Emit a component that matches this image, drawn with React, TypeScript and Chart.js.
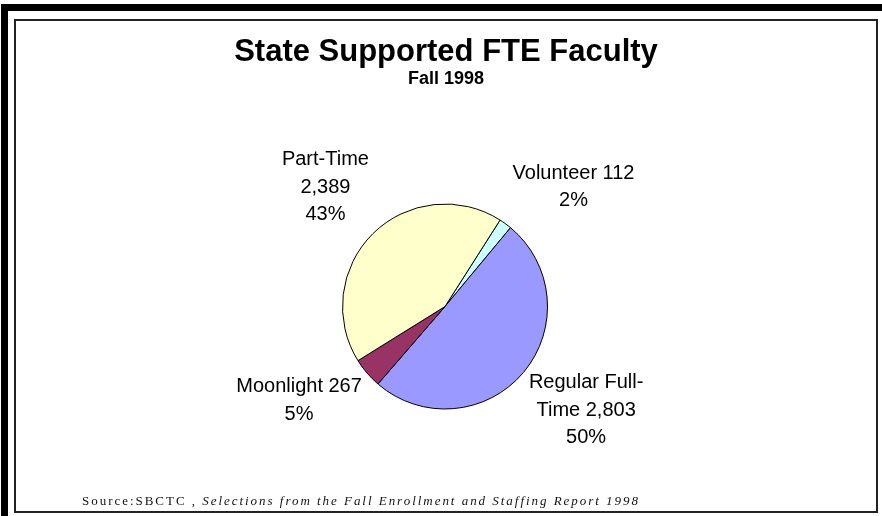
import React, { useEffect, useRef } from "react";
import { Chart, registerables } from "chart.js";

Chart.register(...registerables);

const categories = ["Volunteer", "Regular Full-Time", "Moonlight", "Part-Time"];
const values = [112, 2803, 267, 2389];
const sliceColors = ["#CCFFFF", "#9999FF", "#993366", "#FFFFCC"];
const titleText = "State Supported FTE Faculty";
const subtitleText = "Fall 1998";
const sourcePlain = "Source:SBCTC , ";
const sourceItalic = "Selections from the Fall Enrollment and Staffing Report 1998";

// small layout nudges for the data labels (dx, dy in px), same order as categories
const labelNudge: [number, number][] = [
  [18, 5],
  [1, -5],
  [-2, -6],
  [0, 0],
];

const SANS = "'Liberation Sans', Arial, Helvetica, sans-serif";
const SERIF = "'Liberation Serif', 'Times New Roman', serif";

function wrapText(ctx: CanvasRenderingContext2D, text: string, maxW: number): string[] {
  const re = /( ?)([^ -]+-?)/g;
  const lines: string[] = [];
  let cur = "";
  let m: RegExpExecArray | null;
  while ((m = re.exec(text)) !== null) {
    const sep = m[1];
    const word = m[2];
    const cand = cur ? cur + sep + word : word;
    if (cur && ctx.measureText(cand).width > maxW) {
      lines.push(cur);
      cur = word;
    } else {
      cur = cand;
    }
  }
  if (cur) lines.push(cur);
  return lines;
}

const decorPlugin = {
  id: "decor",
  beforeDraw(chart: any) {
    const ctx: CanvasRenderingContext2D = chart.ctx;
    const W = chart.width;
    const H = chart.height;
    ctx.save();
    ctx.fillStyle = "#ffffff";
    ctx.fillRect(0, 0, W, H);
    ctx.fillStyle = "#000000";
    ctx.fillRect(1, 4, 7, H - 4);
    ctx.fillRect(1, 4, W - 1, 7);
    ctx.strokeStyle = "#222222";
    ctx.lineWidth = 2;
    ctx.strokeRect(15, 20, 862, 492);
    ctx.restore();
  },
  afterDraw(chart: any) {
    const ctx: CanvasRenderingContext2D = chart.ctx;
    ctx.save();
    ctx.fillStyle = "#000000";
    ctx.textAlign = "center";
    ctx.textBaseline = "alphabetic";
    ctx.font = `bold 31px ${SANS}`;
    ctx.fillText(titleText, 446, 61);
    ctx.font = `bold 18px ${SANS}`;
    ctx.fillText(subtitleText, 446, 84);

    // data labels
    const meta = chart.getDatasetMeta(0);
    const total = values.reduce((a, b) => a + b, 0);
    ctx.font = `20px ${SANS}`;
    const lineH = 27.5;
    const gap = 24;
    meta.data.forEach((arc: any, i: number) => {
      const p = arc.getProps(["x", "y", "startAngle", "endAngle", "outerRadius"], true);
      const mid = (p.startAngle + p.endAngle) / 2;
      const dx = Math.cos(mid);
      const dy = Math.sin(mid);
      const main = `${categories[i]} ${values[i].toLocaleString("en-US")}`;
      const lines = wrapText(ctx, main, 132);
      lines.push(`${Math.round((values[i] / total) * 100)}%`);
      const w = Math.max(...lines.map((l) => ctx.measureText(l).width));
      const h = lines.length * lineH;
      const ax = p.x + dx * (p.outerRadius + gap);
      const ay = p.y + dy * (p.outerRadius + gap);
      const cx = ax + (dx * w) / 2 + labelNudge[i][0];
      const cy = ay + (dy * h) / 2 + labelNudge[i][1];
      ctx.textBaseline = "middle";
      ctx.textAlign = "center";
      lines.forEach((l, k) => {
        ctx.fillText(l, cx, cy - h / 2 + lineH * (k + 0.5));
      });
    });

    // source line: spaced serif text spanning a fixed width
    ctx.textAlign = "left";
    ctx.textBaseline = "alphabetic";
    ctx.fillStyle = "#111111";
    const x0 = 82;
    const targetW = 558;
    ctx.font = `13px ${SERIF}`;
    const nw0 = ctx.measureText(sourcePlain).width;
    ctx.font = `italic 13px ${SERIF}`;
    const nw1 = ctx.measureText(sourceItalic).width;
    const n = sourcePlain.length + sourceItalic.length;
    const ls = Math.max(0, (targetW - nw0 - nw1) / n);
    (ctx as any).letterSpacing = `${ls}px`;
    ctx.font = `13px ${SERIF}`;
    ctx.fillText(sourcePlain, x0, 505);
    const w0 = ctx.measureText(sourcePlain).width;
    ctx.font = `italic 13px ${SERIF}`;
    ctx.fillText(sourceItalic, x0 + w0, 505);
    (ctx as any).letterSpacing = "0px";
    ctx.restore();
  },
};

export default function App() {
  const ref = useRef<HTMLCanvasElement | null>(null);
  useEffect(() => {
    if (!ref.current) return;
    const chart = new Chart(ref.current, {
      type: "pie",
      data: {
        labels: categories,
        datasets: [
          {
            data: values,
            backgroundColor: sliceColors,
            borderColor: "#000000",
            borderWidth: 1,
          },
        ],
      },
      options: {
        responsive: false,
        animation: false,
        rotation: 32.5,
        layout: { padding: { left: 342, right: 334, top: 203, bottom: 106 } },
        plugins: {
          legend: { display: false },
          title: { display: false },
          tooltip: { enabled: false },
        },
      },
      plugins: [decorPlugin],
    });
    return () => chart.destroy();
  }, []);
  return (
    <div style={{ position: "fixed", left: 0, top: 0, width: 882, height: 516 }}>
      <canvas ref={ref} width={882} height={516} style={{ width: 882, height: 516, display: "block" }} />
    </div>
  );
}
